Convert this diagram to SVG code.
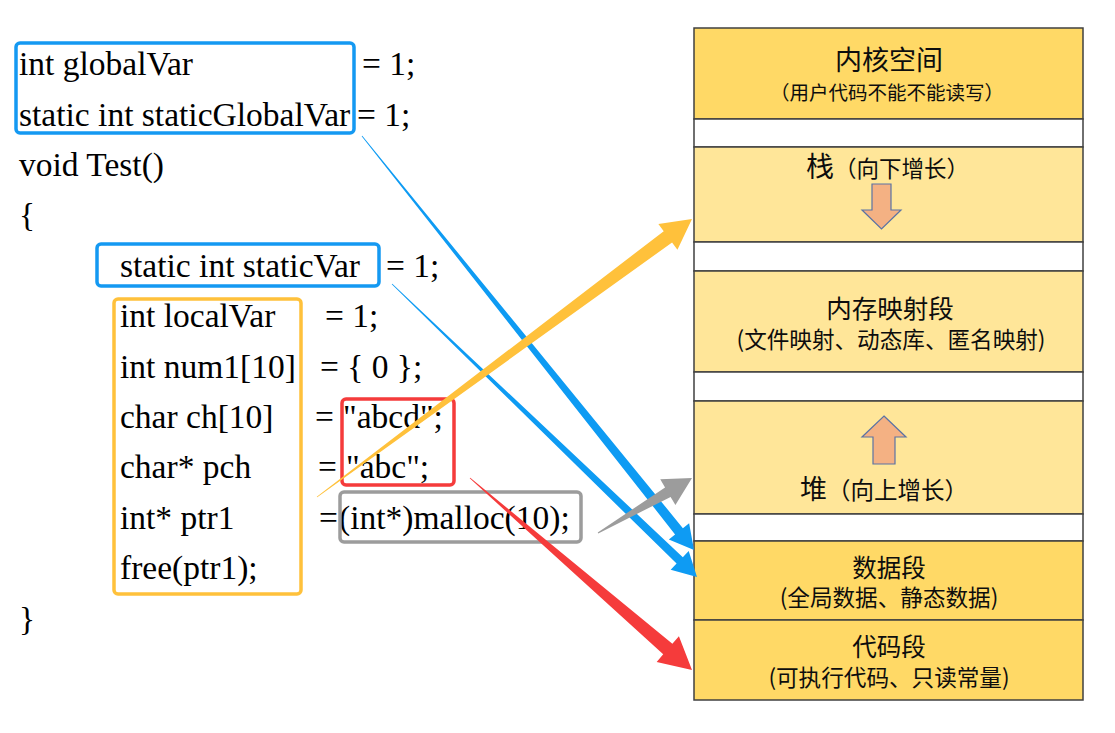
<svg xmlns="http://www.w3.org/2000/svg" width="1115" height="733" viewBox="0 0 1115 733">
<style>
.code{font-family:"Liberation Serif","Times New Roman",serif;font-size:33.5px;fill:#000}
.zh{font-family:"Noto Sans CJK SC","Microsoft YaHei",sans-serif;fill:#0d0d0d;text-anchor:middle}
.dark{fill:#FFD966;stroke:#404040;stroke-width:1.5}
.light{fill:#FFE699;stroke:#404040;stroke-width:1.5}
.gap{fill:#FFFFFF;stroke:#404040;stroke-width:1.5}
.grow{fill:#F4B183;stroke:#5A73A5;stroke-width:1.2}
.box{fill:none;stroke-width:3.5}
</style>
<rect width="1115" height="733" fill="#FFFFFF"/>

<g id="code">
<text class="code" x="19" y="75">int globalVar</text><text class="code" x="362" y="75">= 1;</text>
<text class="code" x="19" y="125.5">static int staticGlobalVar</text><text class="code" x="357" y="125.5">= 1;</text>
<text class="code" x="19" y="176">void Test()</text>
<text class="code" x="19" y="226">{</text>
<text class="code" x="120" y="276.5">static int staticVar</text><text class="code" x="386" y="276.5">= 1;</text>
<text class="code" x="120" y="327">int localVar</text><text class="code" x="325" y="327">= 1;</text>
<text class="code" x="120" y="377.5">int num1[10]</text><text class="code" x="320" y="377.5">= { 0 };</text>
<text class="code" x="120" y="428">char ch[10]</text><text class="code" x="315" y="428">=</text><text class="code" x="343" y="428">"abcd";</text>
<text class="code" x="120" y="478">char* pch</text><text class="code" x="318" y="478">=</text><text class="code" x="346" y="478">"abc";</text>
<text class="code" x="120" y="528.5">int* ptr1</text><text class="code" x="319" y="528.5">=</text><text class="code" x="339" y="528.5">(int*)malloc(10);</text>
<text class="code" x="120" y="579">free(ptr1);</text>
<text class="code" x="19" y="629.5">}</text>
</g>

<g id="box-globals"><rect class="box" x="16" y="43" width="338" height="90" rx="4" stroke="#1499F2"/></g>
<g id="box-staticvar"><rect class="box" x="97" y="244" width="282" height="42" rx="4" stroke="#1499F2"/></g>
<g id="box-locals"><rect class="box" x="114" y="299" width="187" height="295" rx="4" stroke="#FFC13B"/></g>
<g id="box-const"><rect class="box" x="342" y="399" width="112" height="86" rx="4" stroke="#F53B3B"/></g>
<g id="box-malloc"><rect class="box" x="340" y="492" width="241" height="50" rx="4" stroke="#9C9C9C"/></g>

<g id="seg-kernel">
<rect class="dark" x="694" y="28" width="389" height="91"/>
<text class="zh" x="889" y="69.8" font-size="27">内核空间</text>
<text class="zh" x="887" y="99.9" font-size="19.5">（用户代码不能不能读写）</text>
</g>
<g id="gap-1"><rect class="gap" x="694" y="119" width="389" height="28"/></g>
<g id="seg-stack">
<rect class="light" x="694" y="147" width="389" height="95"/>
<text class="zh" x="806" y="176.5" style="text-anchor:start"><tspan font-size="28">栈</tspan><tspan font-size="22.5">（向下增长）</tspan></text>
<polygon class="grow" points="872,184 891,184 891,210 901,210 881.5,229 862,210 872,210"/>
</g>
<g id="gap-2"><rect class="gap" x="694" y="242" width="389" height="29"/></g>
<g id="seg-mmap">
<rect class="light" x="694" y="271" width="389" height="101"/>
<text class="zh" x="890" y="317.5" font-size="25.5">内存映射段</text>
<text class="zh" x="891" y="347.6" font-size="22.6">(文件映射、动态库、匿名映射)</text>
</g>
<g id="gap-3"><rect class="gap" x="694" y="372" width="389" height="29"/></g>
<g id="seg-heap">
<rect class="light" x="694" y="401" width="389" height="113"/>
<polygon class="grow" points="884,416 906,437 895,437 895,464 873,464 873,437 862,437"/>
<text class="zh" x="800" y="499" style="text-anchor:start"><tspan font-size="27">堆</tspan><tspan font-size="23.5">（向上增长）</tspan></text>
</g>
<g id="gap-4"><rect class="gap" x="694" y="514" width="389" height="27"/></g>
<g id="seg-data">
<rect class="dark" x="694" y="541" width="389" height="79"/>
<text class="zh" x="889" y="576.8" font-size="24.5">数据段</text>
<text class="zh" x="889" y="605.5" font-size="22.6">(全局数据、静态数据)</text>
</g>
<g id="seg-text">
<rect class="dark" x="694" y="620" width="389" height="80"/>
<text class="zh" x="889" y="656.3" font-size="24.5">代码段</text>
<text class="zh" x="889" y="685.5" font-size="22.6">(可执行代码、只读常量)</text>
</g>

<g id="connectors">
<polygon fill="#0E9BF3" points="-530.7,-0.4 -24,-5 -24,-13 0,0 -24,13 -24,5 -530.7,0.4" transform="translate(694,550) rotate(51.27)"/>
<polygon fill="#0E9BF3" points="-422.9,-0.4 -24,-4.5 -24,-13 0,0 -24,13 -24,4.5 -422.9,0.4" transform="translate(697,577) rotate(43.85)"/>
<polygon fill="#FFC13B" points="-466.8,-0.4 -30,-7 -30,-16 0,0 -30,16 -30,7 -466.8,0.4" transform="translate(692,219) rotate(-36.55)"/>
<polygon fill="#9C9C9C" points="-108.9,-0.5 -28,-5.5 -28,-15 0,0 -28,15 -28,5.5 -108.9,0.5" transform="translate(692,478) rotate(-30.33)"/>
<polygon fill="#F53B3B" points="-293.5,-0.4 -32,-7 -32,-17 0,0 -32,17 -32,7 -293.5,0.4" transform="translate(692,670) rotate(40.85)"/>
</g>
</svg>
